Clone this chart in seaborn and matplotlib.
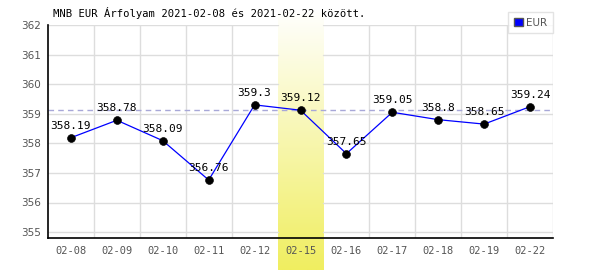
import numpy as np
import pandas as pd
import matplotlib
matplotlib.use("Agg")
import matplotlib.pyplot as plt
import seaborn as sns
from matplotlib.patches import Rectangle

dates = ["02-08", "02-09", "02-10", "02-11", "02-12", "02-15",
         "02-16", "02-17", "02-18", "02-19", "02-22"]
rates = [358.19, 358.78, 358.09, 356.76, 359.30, 359.12,
         357.65, 359.05, 358.80, 358.65, 359.24]
value_labels = ["358.19", "358.78", "358.09", "356.76", "359.3", "359.12",
                "357.65", "359.05", "358.8", "358.65", "359.24"]
highlight = "02-15"
yticks = [355, 356, 357, 358, 359, 360, 361, 362]
title = "MNB EUR Árfolyam 2021-02-08 és 2021-02-22 között."
series_name = "EUR"

sns.set_style("white")
plt.rcParams['font.family'] = ['DejaVu Sans Mono', 'DejaVu Sans']

df = pd.DataFrame({"pos": np.arange(len(dates)), "date": dates, "rate": rates})

fig = plt.figure(figsize=(6, 2.7), dpi=100)

# background axes for the highlight band (spans beyond the plot area)
hi = dates.index(highlight)
n = len(dates)
bg = fig.add_axes([48/600, 0, 505/600, 1 - 8/270], zorder=0)
bg.set_xlim(-0.5, n - 0.5)
bg.set_ylim(0, 1)
bg.axis("off")
grad = np.linspace(0, 1, 256).reshape(-1, 1)
c_top = np.array([1.0, 1.0, 1.0])
c_bot = np.array([0xf0, 0xee, 0x60]) / 255
img = c_top[None, None, :] * (1 - grad[:, :, None]) + c_bot[None, None, :] * grad[:, :, None]
bg.imshow(img, extent=[hi - 0.5, hi + 0.5, 0, 1], aspect="auto", origin="upper")

ax = fig.add_axes([48/600, 1-238/270, 505/600, 213/270], zorder=1)
ax.patch.set_alpha(0)
ax.set_xlim(-0.5, n - 0.5)
ax.set_ylim(354.8, 362)

# grid (not over the highlight band)
ax.set_yticks(yticks)
ax.set_xticks(np.arange(n))
for y in yticks:
    ax.plot([-0.5, hi - 0.5], [y, y], color="#dddddd", lw=1, zorder=0)
    ax.plot([hi + 0.5, n - 0.5], [y, y], color="#dddddd", lw=1, zorder=0)
for xb in np.arange(n) + 0.5:
    if xb in (hi - 0.5, hi + 0.5):
        continue
    ax.axvline(xb, color="#dddddd", lw=1, zorder=0)

# reference dashed line at highlighted value
ax.axhline(rates[hi], color="#a8a8d8", lw=1, ls=(0, (4, 3)), zorder=2)

sns.lineplot(data=df, x="pos", y="rate", ax=ax, color="#0000ff", lw=0.9,
             zorder=3, legend=False)
sns.scatterplot(data=df, x="pos", y="rate", ax=ax, color="black", s=32,
                edgecolor="black", zorder=4, legend=False)

for i, (r, lab) in enumerate(zip(rates, value_labels)):
    ax.annotate(lab, (i, r), xytext=(0, 5), textcoords="offset points",
                ha="center", va="bottom", fontsize=8, color="black", zorder=5)

ax.set_xticklabels(dates, fontsize=7.5, color="#555555")
ax.set_yticklabels([str(y) for y in yticks], fontsize=7.5, color="#555555",
                   family="DejaVu Sans")
ax.tick_params(axis="y", length=3, width=1, color="black", pad=2)
ax.tick_params(axis="x", length=0, pad=6)
ax.set_xlabel("")
ax.set_ylabel("")

for s in ["top", "right"]:
    ax.spines[s].set_visible(False)
for s in ["left", "bottom"]:
    ax.spines[s].set_color("black")
    ax.spines[s].set_linewidth(1.2)

fig.text(53/600, 1-17/270, title, fontsize=7.6, color="black", ha="left", va="baseline")

# legend
handle = Rectangle((0, 0), 1, 1, facecolor="#0000ff", edgecolor="#555555")
leg = fig.legend([handle], [series_name], loc="upper right",
                 bbox_to_anchor=(553/600, 1-12/270), fontsize=7.5,
                 frameon=True, fancybox=False, handlelength=0.9, handleheight=0.9,
                 handletextpad=0.3, borderpad=0.55, borderaxespad=0,
                 prop={"family": "DejaVu Sans", "size": 7.5})
leg.get_frame().set_edgecolor("#dddddd")
leg.get_frame().set_linewidth(1)
for t in leg.get_texts():
    t.set_color("#555555")

fig.savefig("out.png", dpi=100)
